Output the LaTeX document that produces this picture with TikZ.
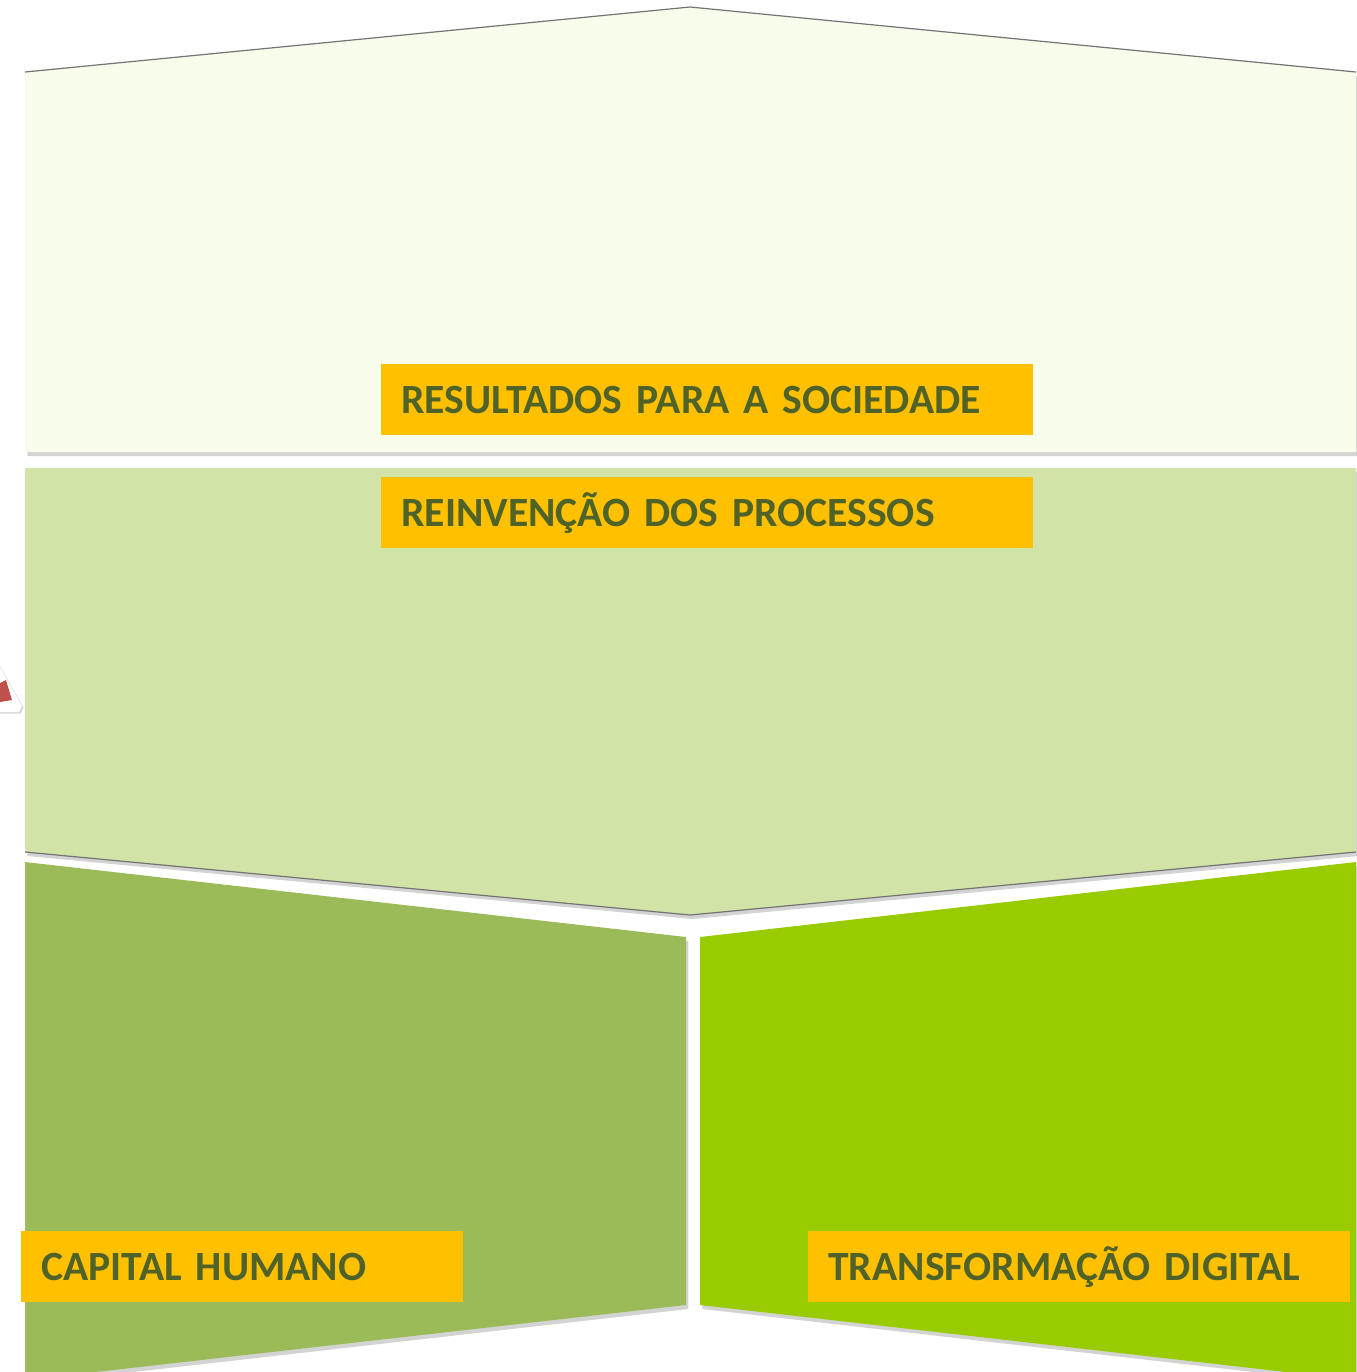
\documentclass[tikz,border=0pt]{standalone}
\usepackage{fontspec}
\setmainfont{Carlito}
\usepackage{tikz}
\usetikzlibrary{shadows}
\usetikzlibrary{positioning}
\definecolor{palegreen}{RGB}{247,253,234}
\definecolor{lightolive}{RGB}{210,227,167}
\definecolor{olive}{RGB}{155,187,89}
\definecolor{lime}{RGB}{153,204,0}
\definecolor{tagyellow}{RGB}{255,192,0}
\definecolor{tagtext}{RGB}{79,98,40}
\definecolor{arrowred}{RGB}{192,80,77}

\begin{document}
\begin{tikzpicture}[x=0.5pt,y=-0.5pt,
	panel/.style={drop shadow={shadow xshift=1.2pt,shadow yshift=-2pt,opacity=.35}},
	edge/.style={draw=black!55,line width=.6pt},
	tag/.style={fill=tagyellow,text=tagtext,font=\bfseries\fontsize{20.8}{24}\selectfont,anchor=north west,inner xsep=10pt,inner ysep=0pt,minimum height=35.5pt,text height=14pt,text depth=0pt,align=left}]
	\useasboundingbox (0,0) rectangle (1356,1372);
	
	% small arrow piece on the left
	\fill[white,drop shadow={shadow xshift=.8pt,shadow yshift=-.8pt,opacity=.3}] (-10,650) -- (22,706) -- (19,712) -- (-10,712) -- cycle;
	\fill[arrowred] (0,683) -- (6,680) -- (12,700) -- (0,702) -- cycle;
	
	% top panel
	\coordinate [] (T1) at (25,72);
	\coordinate [] (T2) at (690,7);
	\coordinate [] (T3) at (1356,72);
	\fill[palegreen,panel] (T1) -- (T2) -- (T3) -- (1356,452) -- (25,452) -- cycle;
	\draw[edge] (T1) -- (T2) -- (T3);
	
	% middle panel
	\coordinate [] (M1) at (25,852);
	\coordinate [] (M2) at (690,915);
	\coordinate [] (M3) at (1356,852);
	\fill[lightolive,panel] (25,468) -- (1356,468) -- (M3) -- (M2) -- (M1) -- cycle;
	\draw[edge] (M1) -- (M2) -- (M3);
	
	% bottom panels
	\fill[olive,panel] (25,862) -- (686,937) -- (686,1305) -- (25,1380) -- cycle;
	\fill[lime,panel] (700,937) -- (1356,862) -- (1356,1380) -- (700,1305) -- cycle;
	
	\node[tag,text width=306pt] (resultados) at (381,364) {RESULTADOS PARA A SOCIEDADE};
	\node[tag,text width=306pt] (processos) at (381,477) {REINVENÇÃO DOS PROCESSOS};
	\node[tag,text width=201pt] (capital) at (21,1231) {CAPITAL HUMANO};
	\node[tag,text width=251pt] (digital) at (808,1231) {TRANSFORMAÇÃO DIGITAL};
	
\end{tikzpicture}
\end{document}
